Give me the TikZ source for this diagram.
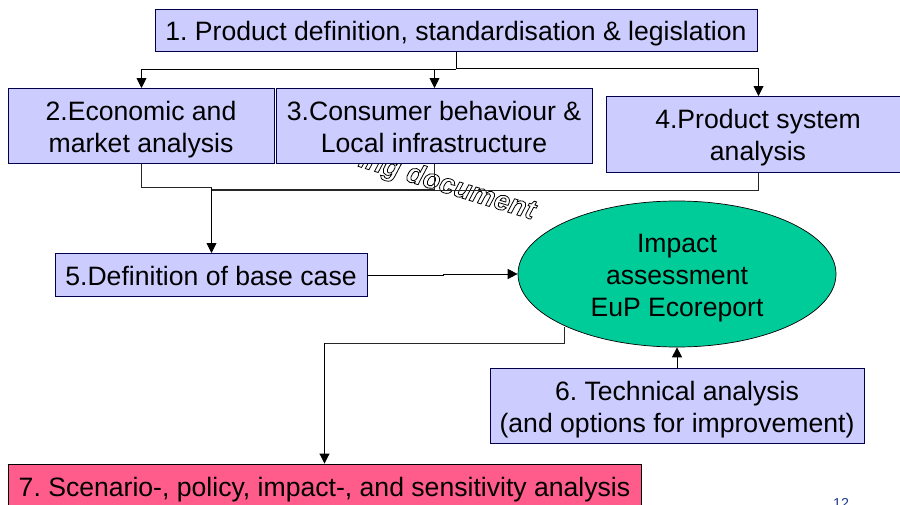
\documentclass[tikz,border=0pt]{standalone}
\usepackage{fontspec}
\setmainfont{Liberation Sans}
\usetikzlibrary{arrows.meta,shapes.geometric}
\definecolor{boxfill}{RGB}{204,204,255}
\definecolor{ellfill}{RGB}{0,204,153}
\definecolor{pinkfill}{RGB}{255,92,140}
\definecolor{pagenum}{RGB}{30,60,140}
\newcommand{\px}{0.0352778cm}
\newcommand{\hollow}[1]{\special{pdf:code 1 Tr 0.8 w}#1\special{pdf:code 0 Tr}}
\newcommand{\lines}[2]{\raisebox{\dimexpr-8.7pt-#1\relax}[0pt][0pt]{\begin{tabular}{@{}c@{}}#2\end{tabular}}}
\tikzset{x=\px,y=-\px,
 boxnode/.style={draw=black!70!blue,line width=0.9pt,fill=boxfill,inner sep=0pt,font=\fontsize{26.7}{32}\selectfont\frenchspacing,text=black},
 conn/.style={draw=black!85,line width=0.9pt},
 tip/.style={-{Triangle[length=10pt,width=10pt]},black},
 wm/.style={font=\fontsize{28}{32}\selectfont\bfseries\itshape,rotate=-17,inner sep=0pt,text=black}}
\begin{document}
\begin{tikzpicture}
\useasboundingbox (0,0) rectangle (900,505);
\fill[white] (0,0) rectangle (900,505);
% watermark, outlined letters
\node[wm] (water) at (447,186) {\hollow{ing document}};
% connectors beneath the boxes
\coordinate (j1) at (456,69.5);
\coordinate (j2) at (211.5,187.5);
\draw[conn,black] (456,51) -- (j1);
\draw[conn,black,tip] (j1) -- (141.5,69.5) -- (141.5,88);
\draw[conn,black,tip] (j1) -- (434.5,69.5) -- (434.5,88);
\draw[conn,tip] (456,68) -- (758.5,68) -- (758.5,96);
\draw[conn] (141.5,163) -- (141.5,187.5) -- (j2);
\draw[conn] (434.5,163) -- (434.5,189.5) -- (211.5,189.5);
\draw[conn] (758.5,172) -- (758.5,190.5) -- (211.5,190.5);
\draw[conn,black,tip] (j2) -- (211.5,253);
% nodes
\node[boxnode,minimum width=602*\px,minimum height=42*\px] (n1) at (456,30) {\lines{1.6pt}{1. Product definition, standardisation \& legislation}};
\node[boxnode,minimum width=266*\px,minimum height=75*\px] (n2) at (141,125.5) {\lines{2.1pt}{2.Economic and\\market analysis}};
\node[boxnode,minimum width=316*\px,minimum height=75*\px] (n3) at (434,125.5) {\lines{2.1pt}{3.Consumer behaviour \&\\Local infrastructure}};
\node[boxnode,minimum width=304*\px,minimum height=76*\px] (n4) at (758,134) {\lines{1.6pt}{4.Product system\\analysis}};
\node[boxnode,minimum width=312*\px,minimum height=43*\px] (n5) at (211,274.5) {\lines{2.1pt}{5.Definition of base case}};
\node[ellipse,draw=black,line width=0.7pt,fill=ellfill,inner sep=0pt,minimum width=318*\px,minimum height=146*\px,font=\fontsize{26.7}{32}\selectfont\frenchspacing] (imp) at (677,274) {\lines{1.6pt}{Impact\\assessment\\EuP Ecoreport}};
\node[boxnode,minimum width=374*\px,minimum height=75*\px] (n6) at (677,405.5) {\lines{2.1pt}{6. Technical analysis\\(and options for improvement)}};
\node[boxnode,draw=black,fill=pinkfill,minimum width=633*\px,minimum height=50*\px] (n7) at (324.5,489) {\lines{-1.4pt}{7. Scenario-, policy, impact-, and sensitivity analysis}};
\node[text=pagenum,font=\fontsize{14.4}{16}\selectfont,inner sep=0pt] (pg) at (841,503.3) {12};
% connectors to the lower nodes
\coordinate (e1) at (443,275);
\draw[conn,tip] (n5.east |- e1) -- (e1) -- (443,274) -- (imp.west);
\coordinate (b1) at (564.5,343);
\draw[conn] (564.5,327) -- (b1) -- (b1 -| n7.north);
\draw[conn,black,tip] (b1 -| n7.north) -- (n7.north);
\draw[conn,black,tip] (n6.north) -- (imp.south);
\end{tikzpicture}
\end{document}
